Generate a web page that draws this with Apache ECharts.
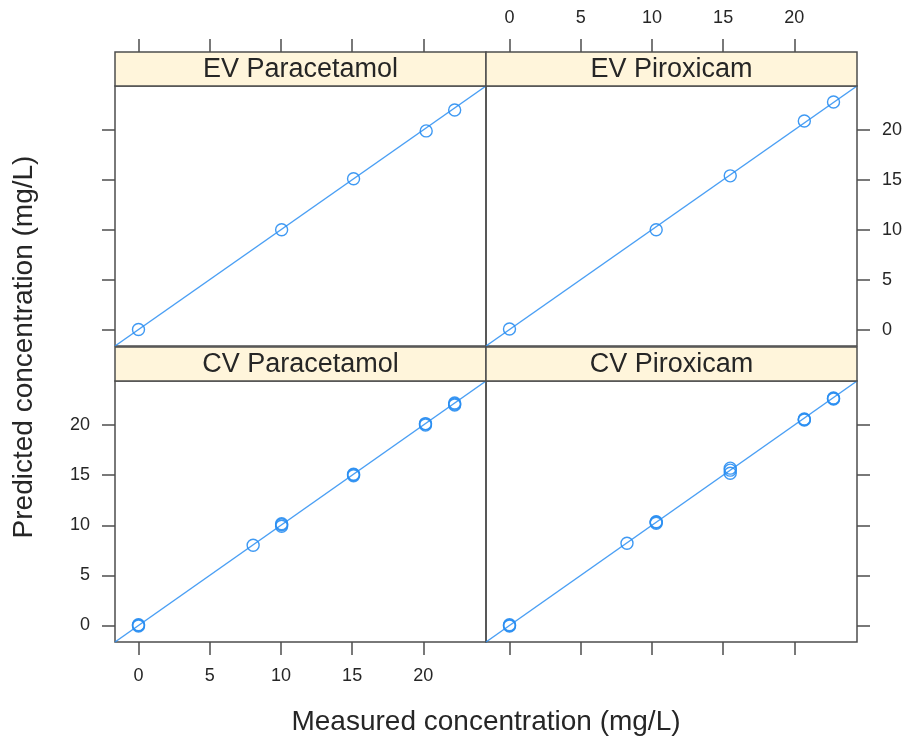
<!DOCTYPE html>
<html>
<head>
<meta charset="utf-8">
<script src="https://cdn.jsdelivr.net/npm/echarts@6/dist/echarts.min.js"></script>
<style>
  html, body { margin: 0; padding: 0; background: #ffffff; }
  #chart { width: 911px; height: 744px; }
</style>
</head>
<body>
<div id="chart"></div>
<script>
// ---------------- data ----------------
const panelTitles = ['EV Paracetamol', 'EV Piroxicam', 'CV Paracetamol', 'CV Piroxicam'];

const evParaMeasured  = [0, 10.05, 15.1, 20.2, 22.2];
const evParaPredicted = [0, 10.0, 15.1, 19.9, 22.0];

const evPiroMeasured  = [0, 10.3, 15.5, 20.7, 22.75];
const evPiroPredicted = [0.05, 10.0, 15.4, 20.9, 22.8];

const cvParaMeasured  = [0, 0, 0, 8.05, 10.05, 10.05, 10.05, 15.1, 15.1, 15.1, 20.15, 20.15, 20.15, 22.2, 22.2, 22.2];
const cvParaPredicted = [0.02, -0.05, 0.08, 8.0, 9.9, 10.05, 10.15, 14.95, 15.05, 15.1, 20.0, 20.1, 20.15, 22.0, 22.1, 22.2];

const cvPiroMeasured  = [0, 0, 0, 8.25, 10.3, 10.3, 10.3, 15.5, 15.5, 15.5, 20.7, 20.7, 20.7, 22.75, 22.75, 22.75];
const cvPiroPredicted = [0.0, 0.08, -0.05, 8.2, 10.2, 10.3, 10.35, 15.2, 15.5, 15.7, 20.5, 20.55, 20.6, 22.6, 22.65, 22.7];

const tickValues = [0, 5, 10, 15, 20];

const xTitle = 'Measured concentration (mg/L)';
const yTitle = 'Predicted concentration (mg/L)';

// ---------------- derived ----------------
const measuredSets  = [evParaMeasured, evPiroMeasured, cvParaMeasured, cvPiroMeasured];
const predictedSets = [evParaPredicted, evPiroPredicted, cvParaPredicted, cvPiroPredicted];

const allVals = [].concat(...measuredSets, ...predictedSets);
const dMin = Math.min(...allVals), dMax = Math.max(...allVals);
const pad = (dMax - dMin) * 0.07;
const lim = [dMin - pad, dMax + pad];

// ---------------- layout ----------------
const L = 115, MID = 486, R = 857;
const stripH = 34;
const rowTop = [86, 381];
const rowBottom = [346, 642];
const stripFill = '#fff5db';
const borderCol = '#4d4d4d';
const blue = '#2a8ef2';
const font = 'Liberation Sans, Arial, sans-serif';
const tickLen = 13;
const labMargin = 25;

const grids = [];
const panels = [
  {col: 0, row: 0}, {col: 1, row: 0}, {col: 0, row: 1}, {col: 1, row: 1}
];
panels.forEach(p => {
  const left = p.col === 0 ? L : MID;
  const right = p.col === 0 ? MID : R;
  grids.push({
    left: left, top: rowTop[p.row],
    width: right - left, height: rowBottom[p.row] - rowTop[p.row],
    show: true, borderColor: borderCol, borderWidth: 1.5, backgroundColor: 'transparent'
  });
});

function axisCommon(showLabels) {
  return {
    type: 'value', min: lim[0], max: lim[1],
    axisLine: {show: false, onZero: false},
    splitLine: {show: false},
    axisTick: {show: true, inside: false, length: tickLen, customValues: tickValues,
               lineStyle: {color: borderCol, width: 1.5}},
    axisLabel: {show: showLabels, customValues: tickValues, margin: labMargin, color: '#262626',
                fontSize: 18, fontFamily: font}
  };
}

const xAxes = [
  Object.assign(axisCommon(false), {gridIndex: 0, position: 'top', offset: stripH}),
  Object.assign(axisCommon(true),  {gridIndex: 1, position: 'top', offset: stripH}),
  Object.assign(axisCommon(true),  {gridIndex: 2, position: 'bottom'}),
  Object.assign(axisCommon(false), {gridIndex: 3, position: 'bottom'})
];
const yAxes = [
  Object.assign(axisCommon(false), {gridIndex: 0, position: 'left'}),
  Object.assign(axisCommon(true),  {gridIndex: 1, position: 'right'}),
  Object.assign(axisCommon(true),  {gridIndex: 2, position: 'left'}),
  Object.assign(axisCommon(false), {gridIndex: 3, position: 'right'})
];

const series = [];
measuredSets.forEach((mx, i) => {
  series.push({
    type: 'line', xAxisIndex: i, yAxisIndex: i,
    data: [[lim[0], lim[0]], [lim[1], lim[1]]],
    showSymbol: false, symbol: 'none', silent: true, clip: true,
    lineStyle: {color: blue, width: 1.5, opacity: 0.85}, z: 2
  });
  series.push({
    type: 'scatter', xAxisIndex: i, yAxisIndex: i,
    data: mx.map((v, k) => [v, predictedSets[i][k]]),
    symbol: 'circle', symbolSize: 12,
    itemStyle: {color: 'rgba(0,0,0,0)', borderColor: blue, borderWidth: 1.4, opacity: 0.9},
    z: 3
  });
});

const graphics = [];
panels.forEach((p, i) => {
  const left = p.col === 0 ? L : MID;
  const right = p.col === 0 ? MID : R;
  const top = rowTop[p.row] - stripH;
  graphics.push({
    type: 'rect', shape: {x: left, y: top, width: right - left, height: stripH},
    style: {fill: stripFill, stroke: borderCol, lineWidth: 1.5}, z: 10
  });
  graphics.push({
    type: 'text', x: (left + right) / 2, y: top + stripH / 2 + 1,
    style: {text: panelTitles[i], fill: '#262626', font: '27px ' + font,
            textAlign: 'center', textVerticalAlign: 'middle'}, z: 11
  });
});
graphics.push({
  type: 'text', x: (L + R) / 2, y: 722,
  style: {text: xTitle, fill: '#262626', font: '28px ' + font, textAlign: 'center', textVerticalAlign: 'middle'}
});
graphics.push({
  type: 'text', x: 24, y: (rowTop[0] - stripH + rowBottom[1]) / 2, rotation: Math.PI / 2,
  style: {text: yTitle, fill: '#262626', font: '28px ' + font, textAlign: 'center', textVerticalAlign: 'middle'}
});

const chart = echarts.init(document.getElementById('chart'), null, {renderer: 'canvas'});
chart.setOption({
  animation: false,
  backgroundColor: '#ffffff',
  grid: grids,
  xAxis: xAxes,
  yAxis: yAxes,
  series: series,
  graphic: graphics
});
</script>
</body>
</html>
